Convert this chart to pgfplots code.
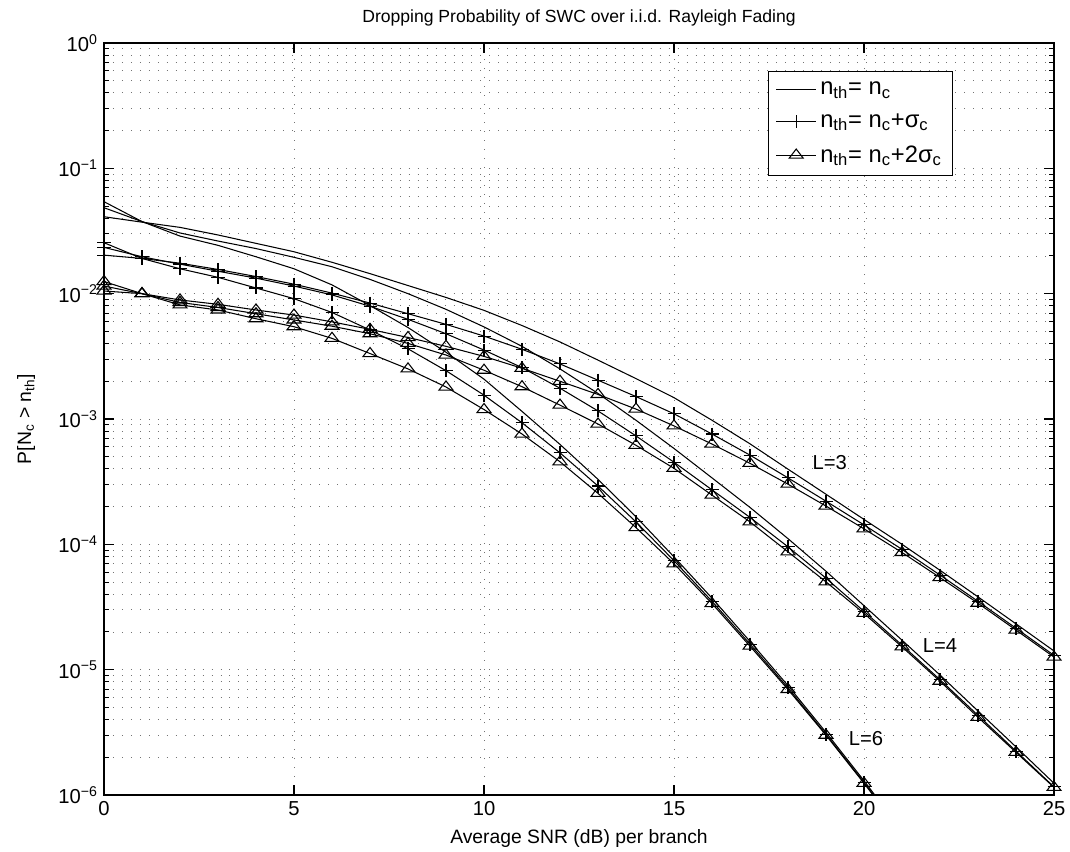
\documentclass[border=0pt]{standalone}
\usepackage{fontspec}
\setmainfont{Liberation Sans}
\usepackage{pgfplots}
\pgfplotsset{compat=1.18}
\usepackage{pgfplotstable}

% columns: SNR, n_th=n_c, n_th=n_c+sigma, n_th=n_c+2sigma
\pgfplotstableread{
x n p t
0 0.0411 0.0203 0.0105
1 0.0372 0.0191 0.0100
2 0.0338 0.0175 0.00891
3 0.0294 0.0156 0.00822
4 0.0252 0.0137 0.00741
5 0.0216 0.0119 0.00675
6 0.0178 0.0101 0.00596
7 0.01445 0.00841 0.00519
8 0.01161 0.00692 0.00447
9 0.00933 0.00569 0.00380
10 0.00736 0.00459 0.00316
11 0.00557 0.00360 0.00254
12 0.00412 0.00275 0.00200
13 0.00295 0.00204 0.00157
14 0.00210 0.00151 0.00120
15 0.00148 0.00110 8.81e-4
16 9.77e-4 7.59e-4 6.31e-4
17 6.34e-4 5.15e-4 4.43e-4
18 3.98e-4 3.39e-4 3.02e-4
19 2.51e-4 2.21e-4 2.02e-4
20 1.58e-4 1.43e-4 1.33e-4
21 1.0e-4 9.12e-5 8.61e-5
22 6.21e-5 5.69e-5 5.43e-5
23 3.81e-5 3.51e-5 3.39e-5
24 2.32e-5 2.14e-5 2.07e-5
25 1.41e-5 1.30e-5 1.26e-5
}\Lthree

\pgfplotstableread{
x n p t
0 0.0485 0.0234 0.0115
1 0.0376 0.0197 0.0100
2 0.0305 0.0172 0.00851
3 0.0263 0.0151 0.00776
4 0.0229 0.0133 0.00692
5 0.0195 0.0115 0.00617
6 0.0164 0.00977 0.00550
7 0.0130 0.00794 0.00479
8 0.0100 0.00624 0.00401
9 0.00750 0.00479 0.00324
10 0.00543 0.00355 0.00245
11 0.00380 0.00257 0.00181
12 0.00251 0.00176 0.00129
13 0.00160 0.00116 9.12e-4
14 9.77e-4 7.33e-4 6.17e-4
15 5.82e-4 4.52e-4 4.04e-4
16 3.39e-4 2.72e-4 2.47e-4
17 1.97e-4 1.64e-4 1.51e-4
18 1.11e-4 9.55e-5 8.71e-5
19 6.10e-5 5.37e-5 5.02e-5
20 3.24e-5 2.92e-5 2.81e-5
21 1.72e-5 1.57e-5 1.52e-5
22 9.06e-6 8.32e-6 8.09e-6
23 4.68e-6 4.32e-6 4.17e-6
24 2.42e-6 2.24e-6 2.19e-6
25 1.24e-6 1.16e-6 1.15e-6
}\Lfour

\pgfplotstableread{
x n p t
0 0.0542 0.0255 0.0125
1 0.0376 0.0191 0.0100
2 0.0288 0.0158 0.00813
3 0.0243 0.0135 0.00741
4 0.0197 0.0111 0.00631
5 0.0158 0.00912 0.00545
6 0.01175 0.00708 0.00440
7 0.00804 0.00513 0.00333
8 0.00537 0.00363 0.00251
9 0.00341 0.00243 0.00180
10 0.00208 0.00155 0.00119
11 0.00115 9.33e-4 7.59e-4
12 6.27e-4 5.37e-4 4.56e-4
13 3.30e-4 2.92e-4 2.55e-4
14 1.66e-4 1.51e-4 1.36e-4
15 7.94e-5 7.41e-5 7.00e-5
16 3.72e-5 3.51e-5 3.37e-5
17 1.68e-5 1.60e-5 1.54e-5
18 7.46e-6 7.16e-6 6.95e-6
19 3.16e-6 3.05e-6 3.00e-6
20 1.30e-6 1.26e-6 1.24e-6
21 5.15e-7 5.01e-7 5.01e-7
}\Lsix

\begin{document}
\begin{tikzpicture}
\begin{axis}[
    at={(0,0)}, anchor=south west,
    scale only axis,
    width=19cm, height=15.04cm,
    ymode=log,
    xmin=0, xmax=25, ymin=1e-6, ymax=1,
    xtick={0,5,...,25},
    ytick={1e-6,1e-5,1e-4,1e-3,1e-2,1e-1,1},
    yticklabels={10\textsuperscript{−6},10\textsuperscript{−5},10\textsuperscript{−4},10\textsuperscript{−3},10\textsuperscript{−2},10\textsuperscript{−1},10\textsuperscript{0}},
    minor ytick={2e-6,3e-6,4e-6,5e-6,6e-6,7e-6,8e-6,9e-6,
                 2e-5,3e-5,4e-5,5e-5,6e-5,7e-5,8e-5,9e-5,
                 2e-4,3e-4,4e-4,5e-4,6e-4,7e-4,8e-4,9e-4,
                 2e-3,3e-3,4e-3,5e-3,6e-3,7e-3,8e-3,9e-3,
                 0.02,0.03,0.04,0.05,0.06,0.07,0.08,0.09,
                 0.2,0.3,0.4,0.5,0.6,0.7,0.8,0.9},
    tick align=inside,
    major tick length=0.2cm, minor tick length=0.1cm,
    grid=both,
    major grid style={black!55, line width=0.5pt, dash pattern=on 0.5pt off 4.6pt},
    minor grid style={black!55, line width=0.5pt, dash pattern=on 0.5pt off 4.6pt},
    axis line style={line width=0.7pt},
    tick style={black, line width=0.6pt},
    /pgf/number format/assume math mode=true,
    tick label style={font=\fontsize{11.5}{13}\selectfont},
    label style={font=\fontsize{11}{13}\selectfont},
    title style={font=\fontsize{10}{12}\selectfont, at={(axis description cs:0.5,1)}, anchor=center, yshift=0.28cm},
    xlabel style={at={(axis description cs:0.5,0)}, anchor=center, yshift=-0.86cm},
    ylabel style={at={(axis description cs:-0.082,0.5)}, anchor=center},
    xlabel={Average SNR (dB) per branch},
    ylabel={P[N\textsubscript{c} > n\textsubscript{th}]},
    title={Dropping Probability of SWC over i.i.d. Rayleigh Fading},
    legend style={at={(0.8937,0.9628)}, anchor=north east, draw=black, line width=0.7pt,
        font=\fontsize{13.5}{15}\selectfont, inner xsep=4pt, inner ysep=4pt, row sep=5pt, cells={anchor=west}},
    legend image code/.code={\draw[mark repeat=2,mark phase=2] plot coordinates {(0cm,0cm) (0.4cm,0cm) (0.8cm,0cm)};},
    every axis plot/.append style={black, line width=0.6pt},
    plus/.style={mark=+, mark size=3.7pt, mark options={line width=0.6pt}},
    tri/.style={mark=triangle, mark size=4.6pt, mark options={yscale=0.75, line width=0.6pt}},
]
\addplot[no markers] table[x=x, y=n] {\Lthree};
\addlegendentry{n\textsubscript{th}= n\textsubscript{c}}
\addplot[plus] table[x=x, y=p] {\Lthree};
\addlegendentry{n\textsubscript{th}= n\textsubscript{c}+σ\textsubscript{c}}
\addplot[tri] table[x=x, y=t] {\Lthree};
\addlegendentry{n\textsubscript{th}= n\textsubscript{c}+2σ\textsubscript{c}}

\addplot[no markers, forget plot] table[x=x, y=n] {\Lfour};
\addplot[plus, forget plot] table[x=x, y=p] {\Lfour};
\addplot[tri, forget plot] table[x=x, y=t] {\Lfour};

\addplot[no markers, forget plot] table[x=x, y=n] {\Lsix};
\addplot[plus, forget plot] table[x=x, y=p] {\Lsix};
\addplot[tri, forget plot] table[x=x, y=t] {\Lsix};

\node[font=\fontsize{11.5}{13}\selectfont] at (axis cs:19.1,4.5e-4) {L=3};
\node[font=\fontsize{11.5}{13}\selectfont] at (axis cs:22.0,1.57e-5) {L=4};
\node[font=\fontsize{11.5}{13}\selectfont] at (axis cs:20.05,2.82e-6) {L=6};
\end{axis}
\pgfresetboundingbox
\path[use as bounding box] (-2.08cm,-1.14cm) rectangle (19.32cm,15.90cm);
\end{tikzpicture}
\end{document}
